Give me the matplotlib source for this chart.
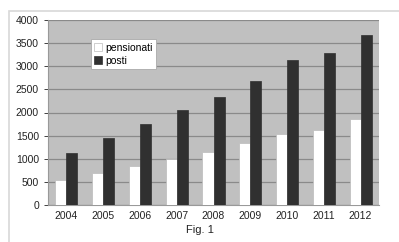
import numpy as np
import matplotlib
matplotlib.use("Agg")
import matplotlib.pyplot as plt
from matplotlib.patches import Rectangle

anni = ["2004", "2005", "2006", "2007", "2008", "2009", "2010", "2011", "2012"]
pensionati = [540, 690, 850, 990, 1150, 1330, 1530, 1630, 1860]
posti = [1130, 1440, 1760, 2050, 2340, 2690, 3135, 3290, 3680]

plt.rcParams['font.family'] = ['Liberation Sans', 'DejaVu Sans']

fig = plt.figure(figsize=(3.99, 2.42), dpi=100)
# cornice grigia chiara
fig.patches.append(Rectangle((9 / 399, -0.1), 1.2, 1 - 11 / 242 + 0.1,
                             transform=fig.transFigure, fill=False,
                             edgecolor="#d8d8d8", linewidth=1.2))
ax = fig.add_axes([48 / 399, 1 - 205 / 242, 331 / 399, 185 / 242])
ax.set_facecolor("#c0c0c0")

x = np.arange(len(anni))
w = 0.3
ax.bar(x - w / 2, pensionati, w, color="white", edgecolor="#bbbbbb", linewidth=0.5,
       label="pensionati", zorder=3)
ax.bar(x + w / 2, posti, w, color="#303030", edgecolor="#303030", linewidth=0.5,
       label="posti", zorder=3)

ax.set_xlim(-0.5, len(anni) - 0.5)
ax.set_ylim(0, 4000)
ax.set_yticks(np.arange(0, 4001, 500))
ax.set_xticks(x)
ax.set_xticklabels(anni)
ax.yaxis.grid(True, color="#8a8a8a", linewidth=0.9, zorder=0)
ax.tick_params(axis="both", labelsize=7.5, colors="#222222", length=3, width=0.6)
ax.tick_params(axis="x", length=0, pad=4)
for lab in ax.get_yticklabels() + ax.get_xticklabels():
    lab.set_color("#222222")
for s in ["top", "right"]:
    ax.spines[s].set_visible(False)
for s in ["left", "bottom"]:
    ax.spines[s].set_color("#999999")
    ax.spines[s].set_linewidth(0.8)

leg = ax.legend(loc="upper left", bbox_to_anchor=(0.13, 0.895), fontsize=7.5,
                frameon=True, fancybox=False, framealpha=1, edgecolor="#aaaaaa",
                handlelength=0.8, handleheight=0.8, handletextpad=0.3,
                borderpad=0.3, labelspacing=0.3, borderaxespad=0)
leg.get_frame().set_linewidth(0.6)

fig.text(200 / 399, 1 - 230 / 242, "Fig. 1", ha="center", va="center",
         fontsize=8, color="#222222")

fig.savefig("out.png", dpi=100)
